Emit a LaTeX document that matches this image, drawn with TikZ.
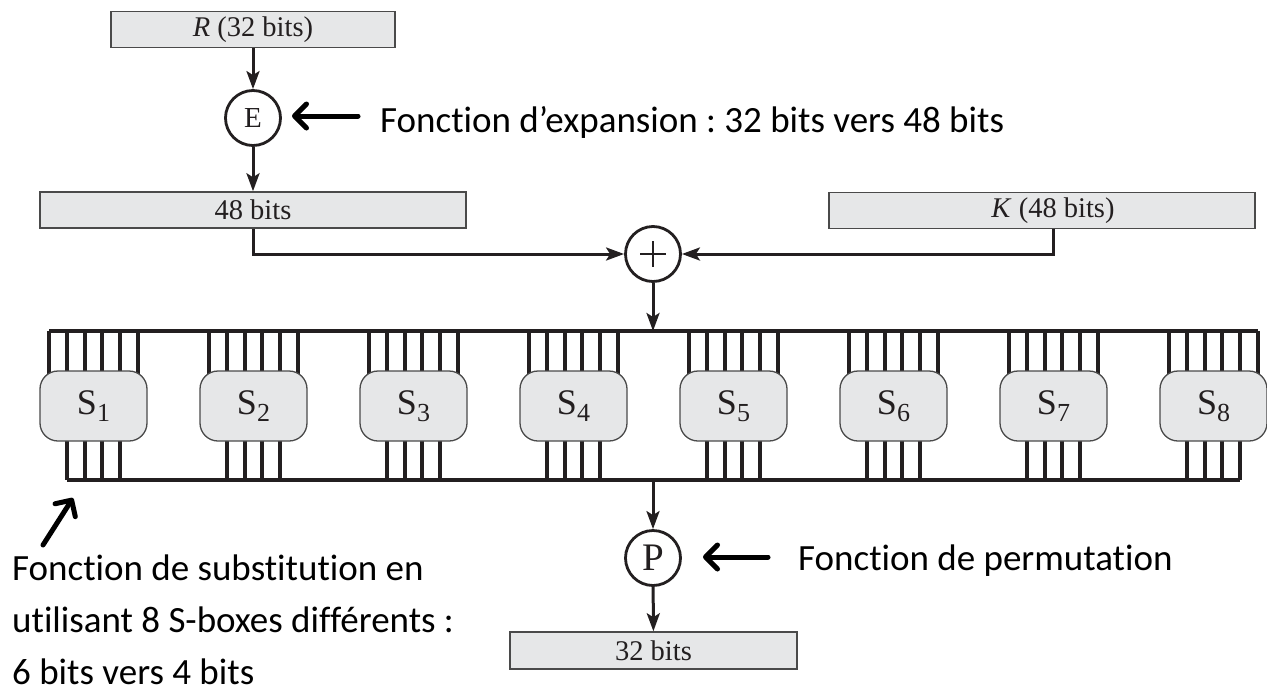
\documentclass[tikz,border=0pt]{standalone}
\usepackage{fontspec}
\setmainfont{Liberation Serif}
\newfontfamily\notefont[Ligatures={NoCommon}]{Carlito}
\usetikzlibrary{arrows.meta}
\frenchspacing

\definecolor{boxfill}{HTML}{E6E7E8}
\definecolor{boxline}{HTML}{4A4A4A}
\definecolor{ink}{HTML}{231F20}

\begin{document}
\begin{tikzpicture}[x=1pt,y=-1pt,
  bitbox/.style={draw=boxline, fill=boxfill, line width=1.5pt, inner sep=0pt,
    minimum height=36pt, font=\fontsize{28.5}{30}\selectfont, text=ink},
  sbox/.style={draw=boxline, fill=boxfill, line width=1.3pt, rounded corners=18pt,
    minimum width=107pt, minimum height=70pt, inner sep=0pt, text=ink},
  op/.style={circle, draw=ink, fill=white, line width=2.8pt, minimum size=55pt,
    inner sep=0pt, text=ink},
  conn/.style={draw=ink, line width=3pt, -{Stealth[length=18pt,width=13pt,inset=4pt]}},
  wire/.style={draw=ink, line width=4pt},
  note/.style={draw=black, line width=5pt, line cap=round,
    -{Straight Barb[length=12pt,width=24pt,round]}},
  notetext/.style={font=\notefont\fontsize{37}{52}\selectfont, inner sep=0pt,
    anchor=base west, align=left},
]
\useasboundingbox (0,0) rectangle (1267,691);

% input, expansion, round key
\node[bitbox, minimum width=284pt] (R) at (253,29.5) {\textit{R} (32 bits)};
\node[op, font=\fontsize{29}{29}\selectfont] (E) at (253,118) {E};
\node[bitbox, minimum width=426pt] (b48) at (253,210) {48 bits};
\node[bitbox, minimum width=426pt] (K) at (1042,210.5) {};
\node[font=\fontsize{28.5}{30}\selectfont, text=ink, inner sep=0pt] (Klabel) at (1053,210.5) {\textit{K} (48 bits)};
\node[op] (xor) at (653,254) {};
\draw[ink, line width=1.3pt] (xor.center) ++(-13,0) -- ++(26,0)
  (xor.center) ++(0,-13) -- ++(0,26);

% bus coordinates
\coordinate (tb) at (653,331);
\coordinate (bb) at (653,480);

% S-box wiring
\draw[wire] (49,331) -- (1258,331);
\draw[wire] (66.8,480) -- (1240.2,480);
\foreach \i in {0,...,7}{
  \pgfmathsetmacro{\L}{40+160*\i}
  \foreach \k in {0,...,5}{
    \draw[wire] ({\L+9+17.8*\k},331) -- ({\L+9+17.8*\k},380);
  }
  \foreach \k in {0,...,3}{
    \draw[wire] ({\L+26.8+17.8*\k},430) -- ({\L+26.8+17.8*\k},480);
  }
}
\foreach \i in {1,...,8}{
  \node[sbox] (S\i) at ({40+160*(\i-1)+53.5},406)
    {\fontsize{36}{36}\selectfont S\raisebox{-7pt}{\fontsize{26}{26}\selectfont\i}};
}

% output permutation
\node[op, font=\fontsize{39}{39}\selectfont] (P) at (653,558) {P};
\node[bitbox, minimum width=287pt, minimum height=37pt] (out) at (653.5,650.5) {32 bits};

% data flow
\draw[conn] (R) -- (E);
\draw[conn] (E) -- (b48);
\draw[conn] (b48.south) |- (xor);
\draw[conn] ([xshift=11pt]K.south) |- (xor);
\draw[conn] (xor) -- (tb);
\draw[conn] (bb) -- (P);
\draw[conn] (P) -- (out);

% annotations
\coordinate (eTail) at (358,116);
\coordinate (eTip) at (292,116);
\draw[note] (eTail) -- (eTip);
\node[notetext] (eNote) at (380,132) {Fonction d’expansion : 32 bits vers 48 bits};

\coordinate (pTail) at (768,557);
\coordinate (pTip) at (703,557);
\draw[note] (pTail) -- (pTip);
\node[notetext] (pNote) at (798,570) {Fonction de permutation};

\coordinate (sTail) at (43,545);
\coordinate (sTip) at (73,498);
\draw[note] (sTail) -- (sTip);
\node[notetext] (sNote) at (12,684) {Fonction de substitution en\\utilisant 8 S-boxes différents :\\6 bits vers 4 bits};
\end{tikzpicture}
\end{document}
